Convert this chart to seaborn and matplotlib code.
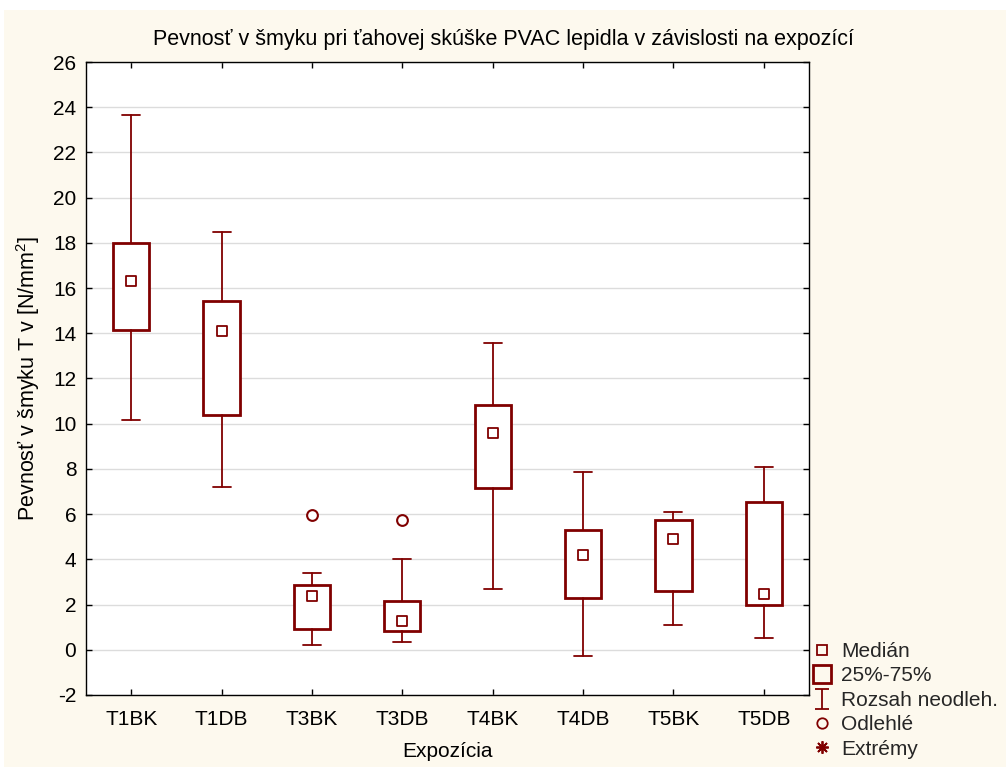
import matplotlib
matplotlib.use("Agg")
import matplotlib.pyplot as plt
import seaborn as sns
import pandas as pd
from matplotlib.lines import Line2D
from matplotlib.path import Path
from matplotlib.patches import Rectangle

# ---- data ----
categories = ['T1BK', 'T1DB', 'T3BK', 'T3DB', 'T4BK', 'T4DB', 'T5BK', 'T5DB']
whisker_low = [10.15, 7.2, 0.2, 0.35, 2.7, -0.27, 1.1, 0.53]
q1 = [14.15, 10.37, 0.94, 0.83, 7.17, 2.3, 2.61, 1.98]
median = [16.3, 14.12, 2.37, 1.28, 9.6, 4.2, 4.9, 2.46]
q3 = [18.0, 15.45, 2.86, 2.17, 10.84, 5.31, 5.72, 6.55]
whisker_high = [23.64, 18.48, 3.41, 4.03, 13.58, 7.88, 6.1, 8.07]
outlier_cat = ['T3BK', 'T3DB']
outlier_val = [5.97, 5.75]

title = 'Pevnosť v šmyku pri ťahovej skúške PVAC lepidla v závislosti na expozící'
xlabel = 'Expozícia'
ylabel = r'Pevnosť v šmyku T v [N/mm$^{2}$]'
legend_labels = ['Medián', '25%-75%', 'Rozsah neodleh.', 'Odlehlé', 'Extrémy']

# ---- style ----
sns.set_theme(style='white')
plt.rcParams['font.family'] = ['Liberation Sans', 'DejaVu Sans']
plt.rcParams['mathtext.fontset'] = 'custom'
plt.rcParams['mathtext.rm'] = 'Liberation Sans'
plt.rcParams['mathtext.it'] = 'Liberation Sans:italic'
plt.rcParams['mathtext.bf'] = 'Liberation Sans:bold'
plt.rcParams['axes.unicode_minus'] = False

RED = '#800000'
BG = '#FDF9EE'

fig = plt.figure(figsize=(10.06, 7.67), dpi=100, facecolor=BG)
# white strip at the top / left edge as in the reference
fig.patches.append(Rectangle((0, 1 - 10 / 767), 1, 10 / 767, transform=fig.transFigure,
                             facecolor='white', edgecolor='none', zorder=-1))
fig.patches.append(Rectangle((0, 0), 4 / 1006, 1, transform=fig.transFigure,
                             facecolor='white', edgecolor='none', zorder=-1))

ax = fig.add_axes([86 / 1006, 72 / 767, (809 - 86) / 1006, (695 - 62) / 767])
ax.set_facecolor('white')

pos = list(range(len(categories)))
stats = []
for i, c in enumerate(categories):
    stats.append(dict(label=c, whislo=whisker_low[i], q1=q1[i], med=median[i],
                      q3=q3[i], whishi=whisker_high[i], fliers=[]))

ax.bxp(stats, positions=pos, widths=0.4, capwidths=0.2, patch_artist=True,
       showfliers=False,
       boxprops=dict(facecolor='white', edgecolor=RED, linewidth=2.0),
       whiskerprops=dict(color=RED, linewidth=1.3),
       capprops=dict(color=RED, linewidth=1.3),
       medianprops=dict(visible=False), zorder=3)

med_df = pd.DataFrame({'x': pos, 'y': median})
sns.scatterplot(data=med_df, x='x', y='y', marker='s', s=55, facecolor='white',
                edgecolor=RED, linewidth=1.3, ax=ax, zorder=4, legend=False)
out_df = pd.DataFrame({'x': [categories.index(c) for c in outlier_cat], 'y': outlier_val})
sns.scatterplot(data=out_df, x='x', y='y', marker='o', s=60, facecolor='white',
                edgecolor=RED, linewidth=1.5, ax=ax, zorder=4, legend=False)

ax.set_xlim(-0.5, len(categories) - 0.5)
ax.set_ylim(-2, 26)
ax.set_yticks(range(-2, 27, 2))
ax.set_xticks(pos)
ax.set_xticklabels(categories)
ax.yaxis.grid(True, color='#DCDCDC', linewidth=1.0, zorder=0)
ax.xaxis.grid(False)
ax.set_axisbelow(True)
for s in ax.spines.values():
    s.set_visible(True)
    s.set_color('black')
    s.set_linewidth(1.0)
ax.tick_params(axis='both', which='major', direction='in', length=4, width=1,
               color='black', labelsize=15, labelcolor='black')
ax.tick_params(axis='x', top=True, bottom=True, pad=11)
ax.tick_params(axis='y', left=True, right=True, pad=7)

ax.set_xlabel(xlabel, fontsize=15, color='black', labelpad=9)
ax.set_ylabel(ylabel, fontsize=15.5, color='black', labelpad=8)
fig.text(0.5, 1 - 39 / 767, title, ha='center', va='center', fontsize=15.5, color='black')

# ---- legend ----
ibeam = Path([(-0.35, 0.5), (0.35, 0.5), (0, 0.5), (0, -0.5), (-0.35, -0.5), (0.35, -0.5)],
             [Path.MOVETO, Path.LINETO, Path.MOVETO, Path.LINETO, Path.MOVETO, Path.LINETO])
handles = [
    Line2D([], [], linestyle='none', marker='s', markersize=7.5, markerfacecolor='none',
           markeredgecolor=RED, markeredgewidth=1.3),
    Line2D([], [], linestyle='none', marker='s', markersize=12.5, markerfacecolor='none',
           markeredgecolor=RED, markeredgewidth=2.0),
    Line2D([], [], linestyle='none', marker=ibeam, markersize=15, markerfacecolor='none',
           markeredgecolor=RED, markeredgewidth=1.3),
    Line2D([], [], linestyle='none', marker='o', markersize=7.5, markerfacecolor='none',
           markeredgecolor=RED, markeredgewidth=1.3),
    Line2D([], [], linestyle='none', marker=(8, 2, 0), markersize=9, markerfacecolor='none',
           markeredgecolor=RED, markeredgewidth=1.3),
]
fig.legend(handles, legend_labels, loc='upper left',
           bbox_to_anchor=(812 / 1006, 1 - 642 / 767), frameon=False, fontsize=15,
           handlelength=1.0, handletextpad=0.4, labelspacing=0.26, borderpad=0,
           borderaxespad=0)

fig.savefig('out.png', dpi=100, facecolor=BG)
